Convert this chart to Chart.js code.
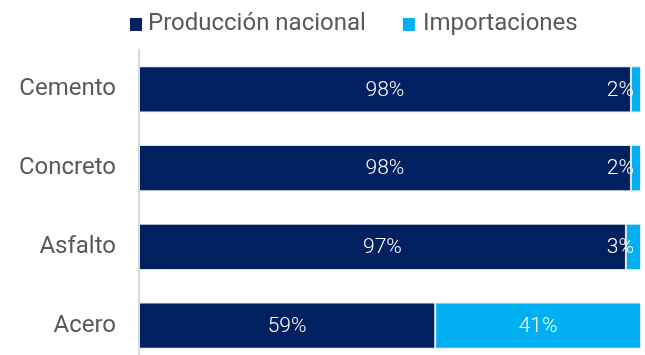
<!DOCTYPE html>
<html>
<head>
<meta charset="utf-8">
<script src="https://cdn.jsdelivr.net/npm/chart.js@4.4.1/dist/chart.umd.min.js"></script>
<style>
  html, body { margin: 0; padding: 0; background: #fff; overflow: hidden; }
</style>
</head>
<body>
<canvas id="barChart" width="645" height="366"></canvas>
<script>
const categories = ["Cemento", "Concreto", "Asfalto", "Acero"];
const seriesNames = ["Producción nacional", "Importaciones"];
const nacional = [98, 98, 97, 59];
const importaciones = [2, 2, 3, 41];

const navy = "#002060";
const lightBlue = "#00B0F0";
const textGray = "#595959";

// etiquetas blancas dentro de cada segmento
const segmentLabels = {
  id: "segmentLabels",
  afterDatasetsDraw(chart) {
    const ctx = chart.ctx;
    ctx.save();
    ctx.font = "300 21px Roboto";
    ctx.fillStyle = "#ffffff";
    ctx.textBaseline = "middle";
    ctx.textAlign = "center";
    chart.data.datasets.forEach((ds, di) => {
      chart.getDatasetMeta(di).data.forEach((bar, i) => {
        const txt = ds.data[i] + "%";
        const left = Math.min(bar.x, bar.base);
        const right = Math.max(bar.x, bar.base);
        const w = ctx.measureText(txt).width;
        let x = (left + right) / 2;
        if (right - left < w + 10) x = right - 7 - w / 2;
        ctx.fillText(txt, x, bar.y + 1);
      });
    });
    ctx.restore();
  },
};

// leyenda dibujada a mano (cuadro pegado al texto)
const topLegend = {
  id: "topLegend",
  afterDraw(chart) {
    const ctx = chart.ctx;
    const colors = [navy, lightBlue];
    ctx.save();
    ctx.font = "24px Roboto";
    ctx.textBaseline = "middle";
    ctx.textAlign = "left";
    let x = 130;
    seriesNames.forEach((name, i) => {
      ctx.fillStyle = colors[i];
      ctx.fillRect(x, 18, 12, 13);
      x += 18 + (i ? 2 : 0);
      ctx.fillStyle = textGray;
      ctx.fillText(name, x, 24);
      x += ctx.measureText(name).width + 37;
    });
    ctx.restore();
  },
};

const ctx = document.getElementById("barChart").getContext("2d");
new Chart(ctx, {
  type: "bar",
  data: {
    labels: categories,
    datasets: [
      {
        label: seriesNames[0],
        data: nacional,
        backgroundColor: navy,
        borderColor: "rgba(220,225,232,0.9)",
        borderWidth: 1,
        borderSkipped: false,
      },
      {
        label: seriesNames[1],
        data: importaciones,
        backgroundColor: lightBlue,
        borderColor: "rgba(220,225,232,0.9)",
        borderWidth: 1,
        borderSkipped: false,
      },
    ],
  },
  options: {
    indexAxis: "y",
    responsive: false,
    animation: false,
    barPercentage: 0.585,
    categoryPercentage: 1,
    layout: { padding: { left: 0, right: 4, top: 50, bottom: 1 } },
    scales: {
      x: { stacked: true, min: 0, max: 100, display: false },
      y: {
        stacked: true,
        grid: { display: false },
        border: { display: true, color: "#d9d9d9", width: 2 },
        ticks: { color: textGray, font: { family: "Roboto", size: 24 }, padding: 15 },
        afterFit(scale) {
          scale.width = 139;
          scale.paddingTop = 0;
          scale.paddingBottom = 0;
        },
      },
    },
    plugins: {
      legend: { display: false },
      tooltip: { enabled: false },
    },
  },
  plugins: [segmentLabels, topLegend],
});
</script>
</body>
</html>
